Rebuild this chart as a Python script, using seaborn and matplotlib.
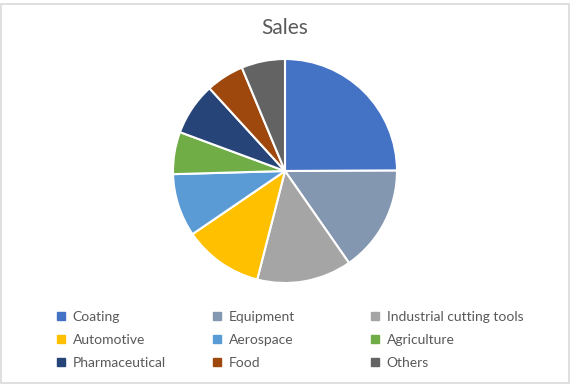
import matplotlib
matplotlib.use('Agg')
import matplotlib.pyplot as plt
from matplotlib.lines import Line2D
from matplotlib.patches import Rectangle
import seaborn as sns

# Data (share of sales, %)
categories = ['Coating', 'Equipment', 'Industrial cutting tools', 'Automotive',
              'Aerospace', 'Agriculture', 'Pharmaceutical', 'Food', 'Others']
sales = [25.0, 15.4, 13.7, 11.5, 9.1, 6.1, 7.6, 5.5, 6.3]
colors = ['#4472C4', '#8497B0', '#A5A5A5', '#FFC000', '#5B9BD5',
          '#70AD47', '#264478', '#9E480E', '#636363']

sns.set_theme(style='white')
plt.rcParams['font.family'] = ['Lato', 'DejaVu Sans']
palette = sns.color_palette(colors)
text_color = '#595959'

fig = plt.figure(figsize=(5.72, 3.87), dpi=100)

# chart area border
fig.patches.append(Rectangle((0.5 / 572, 1 - 383 / 387), 568.5 / 572, 379 / 387,
                             transform=fig.transFigure, fill=False,
                             edgecolor='#D9D9D9', linewidth=1.2))

# pie: center (285, 171), radius 112 px
r = 112
ax = fig.add_axes([(285 - r) / 572, 1 - (171 + r) / 387, 2 * r / 572, 2 * r / 387])
wedges, _ = ax.pie(sales, colors=palette, startangle=90, counterclock=False,
                   wedgeprops=dict(edgecolor='white', linewidth=1.5))
ax.set_xlim(-1.0, 1.0)
ax.set_ylim(-1.0, 1.0)
ax.set_aspect('equal')
ax.axis('off')

fig.text(285 / 572, 1 - 28 / 387, 'Sales', ha='center', va='center',
         fontsize=15, color=text_color)

# legend: three columns, filled row by row like the original
col_x = [56, 212, 370]
for c in range(3):
    handles = [Line2D([], [], linestyle='none', marker='s', markersize=5.2,
                      color=palette[i], label=categories[i])
               for i in range(c, len(categories), 3)]
    fig.legend(handles=handles, loc='upper left',
               bbox_to_anchor=(col_x[c] / 572, 1 - 311 / 387),
               frameon=False, fontsize=10, labelcolor=text_color,
               handlelength=0.7, handletextpad=0.5, labelspacing=0.78,
               borderaxespad=0, borderpad=0)

fig.savefig('out.png', dpi=100)
plt.close(fig)
